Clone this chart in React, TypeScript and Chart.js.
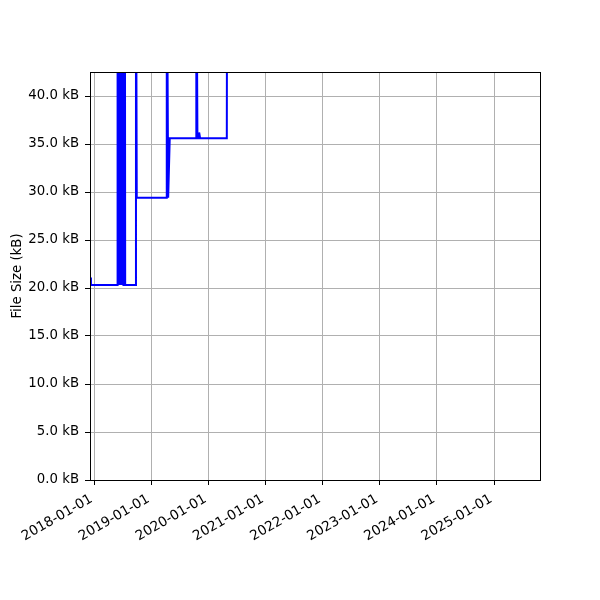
import React, { useEffect, useRef } from "react";
import { Chart, registerables } from "chart.js";

Chart.register(...registerables);

const dates: string[] = [
  "2017-12-09", "2017-12-10", "2018-05-27",
  "2018-05-28", "2018-05-31", "2018-06-03", "2018-06-06", "2018-06-09", "2018-06-12",
  "2018-06-15", "2018-06-18", "2018-06-21", "2018-06-24", "2018-06-27", "2018-06-30",
  "2018-07-03", "2018-07-06", "2018-07-09", "2018-07-12", "2018-07-15", "2018-07-17",
  "2018-09-22", "2018-09-24", "2018-09-29",
  "2019-04-07", "2019-04-09", "2019-04-18", "2019-04-28",
  "2019-10-13", "2019-10-15", "2019-10-22",
  "2019-11-01", "2019-11-02", "2019-11-07", "2019-11-08",
  "2020-04-27", "2020-04-29", "2021-06-01", "2023-01-01", "2025-08-01",
];

const sizesKB: number[] = [
  21.1, 20.3, 20.3,
  60, 20.3, 60, 20.3, 60, 20.3,
  60, 20.3, 60, 20.3, 60, 20.3,
  60, 20.3, 60, 20.3, 60, 20.3,
  20.3, 60, 29.4,
  29.4, 60, 29.4, 35.6,
  35.6, 60, 35.6,
  35.6, 36.2, 36.2, 35.6,
  35.6, 60, 62, 65, 68,
];

const xTickYears: number[] = [2018, 2019, 2020, 2021, 2022, 2023, 2024, 2025];
const yTickValues: number[] = [0, 5, 10, 15, 20, 25, 30, 35, 40];
const xMinDate = "2017-12-04";
const xMaxDate = "2025-10-21";
const yMax = 42.5;
const yTitle = "File Size (kB)";

const toMs = (s: string) => {
  const [y, m, d] = s.split("-").map(Number);
  return Date.UTC(y, m - 1, d);
};
const fmt = (v: number) => {
  const d = new Date(v);
  const p = (n: number) => String(n).padStart(2, "0");
  return `${d.getUTCFullYear()}-${p(d.getUTCMonth() + 1)}-${p(d.getUTCDate())}`;
};

const FONT = "'DejaVu Sans', sans-serif";

const frame = {
  id: "frame",
  afterDraw(chart: any) {
    const { ctx, chartArea: a } = chart;
    ctx.save();
    ctx.strokeStyle = "#000";
    ctx.lineWidth = 1;
    ctx.strokeRect(Math.round(a.left) + 0.5, Math.round(a.top) + 0.5, Math.round(a.right - a.left), Math.round(a.bottom - a.top));
    ctx.restore();
  },
};

export default function App() {
  const ref = useRef<HTMLCanvasElement>(null);
  useEffect(() => {
    if (!ref.current) return;
    Chart.defaults.color = "#000";
    const data = dates.map((d, i) => ({ x: toMs(d), y: sizesKB[i] }));
    const chart = new Chart(ref.current, {
      type: "line",
      data: {
        datasets: [
          {
            data,
            borderColor: "#0000ff",
            borderWidth: 2,
            pointRadius: 0,
            tension: 0,
            fill: false,
          },
        ],
      },
      options: {
        animation: false,
        responsive: false,
        devicePixelRatio: 1,
        layout: { padding: { top: 72, right: 60, left: 0, bottom: 0 } },
        plugins: { legend: { display: false }, tooltip: { enabled: false } },
        scales: {
          x: {
            type: "linear",
            min: toMs(xMinDate),
            max: toMs(xMaxDate),
            afterBuildTicks: (s: any) => {
              s.ticks = xTickYears.map((y) => ({ value: Date.UTC(y, 0, 1) }));
            },
            afterFit: (s: any) => {
              s.height = 120;
            },
            ticks: {
              callback: (v: any) => fmt(Number(v)),
              minRotation: 30,
              maxRotation: 30,
              autoSkip: false,
              padding: 6,
              labelOffset: -3,
              font: { family: FONT, size: 13.6 },
              color: "#000",
            },
            grid: { color: "#b0b0b0", lineWidth: 1, tickLength: 5, tickColor: "#000", drawTicks: true },
            border: { display: true, color: "#000", width: 1 },
          },
          y: {
            min: 0,
            max: yMax,
            afterBuildTicks: (s: any) => {
              s.ticks = yTickValues.map((v) => ({ value: v }));
            },
            afterFit: (s: any) => {
              s.width = 90;
            },
            ticks: {
              callback: (v: any) => Number(v).toFixed(1) + " kB",
              padding: 6,
              font: { family: FONT, size: 13.3 },
              color: "#000",
            },
            grid: { color: "#b0b0b0", lineWidth: 1, tickLength: 5, tickColor: "#000", drawTicks: true },
            border: { display: true, color: "#000", width: 1 },
            title: {
              display: true,
              text: yTitle,
              font: { family: FONT, size: 13.3 },
              color: "#000",
              padding: { top: 10, bottom: 0 },
            },
          },
        },
      },
      plugins: [frame],
    });
    return () => chart.destroy();
  }, []);
  return (
    <div style={{ position: "absolute", left: 0, top: 0, width: 600, height: 600, background: "#fff" }}>
      <canvas ref={ref} width={600} height={600} />
    </div>
  );
}
